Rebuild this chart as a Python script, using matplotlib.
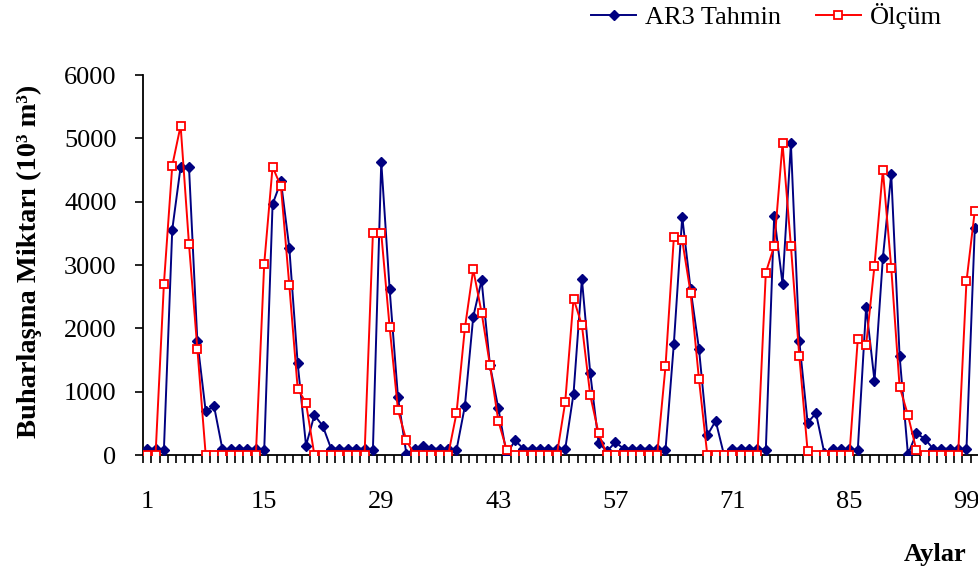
import matplotlib
matplotlib.use("Agg")
import matplotlib.pyplot as plt
import numpy as np

# monthly evaporation, 10^3 m^3
months = np.arange(1, 101)
ar3_tahmin = [
    100, 100, 80, 3560, 4550, 4550, 1800, 690, 770, 90,
    100, 100, 100, 100, 80, 3960, 4320, 3270, 1450, 150,
    630, 460, 100, 100, 100, 100, 100, 80, 4630, 2620,
    910, 20, 100, 150, 100, 100, 100, 80, 770, 2180,
    2760, 1420, 740, 10, 230, 100, 100, 100, 100, 100,
    90, 970, 2780, 1290, 190, 60, 200, 100, 100, 100,
    100, 100, 80, 1760, 3760, 2620, 1680, 310, 540, 0,
    100, 100, 100, 100, 80, 3780, 2700, 4920, 1800, 510,
    660, 30, 100, 90, 90, 80, 2340, 1170, 3110, 4440,
    1570, 10, 340, 260, 100, 100, 100, 100, 90, 3590,
]
olcum = [
    0, 0, 2700, 4570, 5200, 3330, 1680, 0, 0, 0,
    0, 0, 0, 0, 3020, 4550, 4240, 2680, 1050, 820,
    0, 0, 0, 0, 0, 0, 0, 3500, 3500, 2020,
    710, 230, 0, 0, 0, 0, 0, 660, 2000, 2930,
    2250, 1420, 540, 80, 0, 0, 0, 0, 0, 0,
    830, 2470, 2050, 940, 340, 0, 0, 0, 0, 0,
    0, 0, 1400, 3440, 3390, 2560, 1200, 0, 0, 0,
    0, 0, 0, 0, 2880, 3300, 4920, 3300, 1570, 60,
    0, 0, 0, 0, 0, 1830, 1740, 2990, 4500, 2960,
    1080, 630, 80, 0, 0, 0, 0, 0, 2740, 3860,
]
xtick_labels = [1, 15, 29, 43, 57, 71, 85, 99]
yticks = [0, 1000, 2000, 3000, 4000, 5000, 6000]

plt.rcParams["font.family"] = ["Liberation Serif", "DejaVu Serif"]
fs = 19

fig = plt.figure(figsize=(9.79, 5.73), dpi=100)
ax = fig.add_axes([143 / 979, 118 / 573, 836 / 979, 380 / 573])

ax.plot(months, ar3_tahmin, color="#000080", lw=1.4, marker="D",
        ms=5.5, mfc="#000080", mec="#000080", label="AR3 Tahmin", zorder=3)
ax.plot(months, olcum, color="#ff0000", lw=1.4, marker="s",
        ms=6, mfc="white", mec="#ff0000", mew=1.3, label="Ölçüm", zorder=4)

ax.set_xlim(0.5, 100.5)
ax.set_ylim(0, 6000)

# category boundaries get the tick marks, labels sit on the categories
ax.set_xticks(np.arange(0.5, 101, 1))
ax.set_xticklabels([])
ax.set_xticks(xtick_labels, minor=True)
ax.set_xticklabels([str(v) for v in xtick_labels], minor=True, fontsize=fs)
ax.tick_params(axis="x", which="major", direction="out", length=6, width=1.2)
ax.tick_params(axis="x", which="minor", length=0, pad=26)

ax.set_yticks(yticks)
ax.set_yticklabels([str(v) for v in yticks], fontsize=fs)
ax.tick_params(axis="y", direction="out", length=6, width=1.2, pad=13)

for side in ["top", "right"]:
    ax.spines[side].set_visible(False)
for side in ["left", "bottom"]:
    ax.spines[side].set_linewidth(1.3)

fig.text(29 / 979, 1 - 261 / 573, "Buharlaşma Miktarı (10³ m³)",
         rotation=90, ha="center", va="center", fontsize=20.5, fontweight="bold")
fig.text(967 / 979, 1 - 554 / 573, "Aylar", ha="right", va="center",
         fontsize=fs, fontweight="bold")

fig.legend(loc="center right", bbox_to_anchor=(942 / 979, 1 - 16 / 573),
           bbox_transform=fig.transFigure, ncol=2, frameon=False,
           fontsize=fs, handlelength=1.7, handletextpad=0.35,
           columnspacing=1.3, borderpad=0, borderaxespad=0)

fig.savefig("out.png", dpi=100)
